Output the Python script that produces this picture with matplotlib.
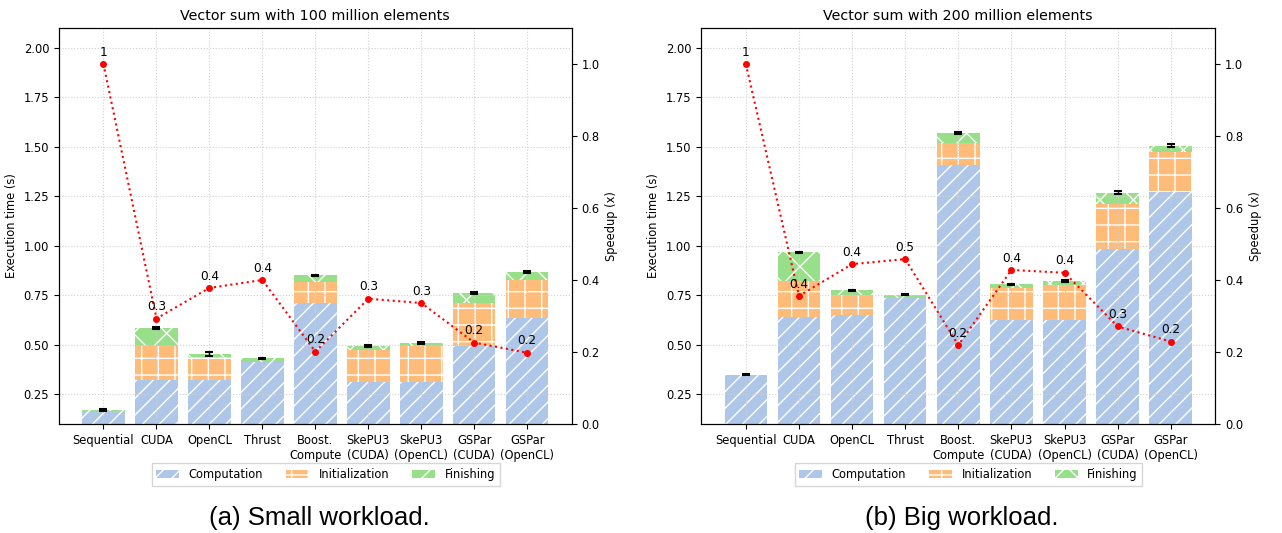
import numpy as np
import matplotlib
matplotlib.use("Agg")
import matplotlib.pyplot as plt

# data
labels = ["Sequential", "CUDA", "OpenCL", "Thrust", "Boost.\nCompute",
          "SkePU3\n(CUDA)", "SkePU3\n(OpenCL)", "GSPar\n(CUDA)", "GSPar\n(OpenCL)"]

# small workload (100 million)
comp_small = [0.165, 0.32, 0.323, 0.414, 0.711, 0.313, 0.313, 0.493, 0.634]
init_small = [0.0, 0.173, 0.116, 0.0, 0.104, 0.160, 0.180, 0.218, 0.195]
fin_small = [0.007, 0.091, 0.014, 0.018, 0.035, 0.020, 0.017, 0.049, 0.037]
err_small = [0.004, 0.004, 0.010, 0.003, 0.005, 0.004, 0.004, 0.005, 0.005]
speed_small = [1.0, 0.293, 0.378, 0.40, 0.201, 0.348, 0.336, 0.226, 0.198]

# big workload (200 million)
comp_big = [0.345, 0.641, 0.651, 0.736, 1.410, 0.624, 0.624, 0.985, 1.274]
init_big = [0.0, 0.180, 0.102, 0.0, 0.111, 0.161, 0.176, 0.224, 0.202]
fin_big = [0.003, 0.146, 0.022, 0.017, 0.051, 0.020, 0.021, 0.060, 0.030]
err_big = [0.003, 0.003, 0.004, 0.003, 0.005, 0.004, 0.004, 0.008, 0.006]
speed_big = [1.0, 0.356, 0.444, 0.458, 0.219, 0.428, 0.42, 0.271, 0.229]

c_comp = "#aec7e8"
c_init = "#ffbb78"
c_fin = "#98df8a"

plt.rcParams["hatch.color"] = "white"
plt.rcParams["hatch.linewidth"] = 1.0

fs = 8.3


def draw_panel(ax, comp, init, fin, err, speed, title):
    x = np.arange(len(labels))
    comp = np.array(comp)
    init = np.array(init)
    fin = np.array(fin)
    ax.bar(x, comp, 0.8, color=c_comp, hatch="//", label="Computation", zorder=1)
    ax.bar(x, init, 0.8, bottom=comp, color=c_init, hatch="+", label="Initialization", zorder=1)
    total = comp + init + fin
    ax.bar(x, fin, 0.8, bottom=comp + init, color=c_fin, hatch="x", label="Finishing", zorder=1)
    ax.errorbar(x, total, yerr=err, fmt="none", ecolor="black", capsize=3, elinewidth=1,
                capthick=1.5, zorder=3)
    ax.set_ylim(0.1, 2.1)
    ax.set_yticks([0.25, 0.5, 0.75, 1.0, 1.25, 1.5, 1.75, 2.0])
    ax.set_xticks(x)
    ax.set_xticklabels(labels, fontsize=fs)
    ax.tick_params(axis="y", labelsize=fs)
    ax.set_ylabel("Execution time (s)", fontsize=fs)
    ax.set_title(title, fontsize=10.3)
    ax.set_axisbelow(False)
    ax.grid(True, linestyle=":", color="#d0d0d0", linewidth=0.8)

    ax2 = ax.twinx()
    ax2.plot(x, speed, ":", color="red", marker="o", markersize=4, linewidth=1.5)
    for xi, s in zip(x, speed):
        ax2.annotate("%g" % round(s, 1), (xi, s), textcoords="offset points",
                     xytext=(0, 6), ha="center", fontsize=fs + 0.4)
    ax2.set_ylim(0, 1.1)
    ax2.set_yticks([0.0, 0.2, 0.4, 0.6, 0.8, 1.0])
    ax2.tick_params(axis="y", labelsize=fs)
    ax2.set_ylabel("Speedup (x)", fontsize=fs)

    ax.legend(loc="upper center", bbox_to_anchor=(0.52, -0.085), ncol=3, fontsize=fs,
              fancybox=False, handlelength=2.0, columnspacing=2.0)


fig = plt.figure(figsize=(12.82, 5.33), dpi=100)
ax_a = fig.add_axes([0.046, 0.2045, 0.4, 0.743])
ax_b = fig.add_axes([0.547, 0.2045, 0.401, 0.743])

draw_panel(ax_a, comp_small, init_small, fin_small, err_small, speed_small,
           "Vector sum with 100 million elements")
draw_panel(ax_b, comp_big, init_big, fin_big, err_big, speed_big,
           "Vector sum with 200 million elements")

fig.text(0.249, 0.015, "(a) Small workload.", ha="center", fontsize=18.5, family="Liberation Sans")
fig.text(0.75, 0.015, "(b) Big workload.", ha="center", fontsize=18.5, family="Liberation Sans")

fig.savefig("out.png", dpi=100)
